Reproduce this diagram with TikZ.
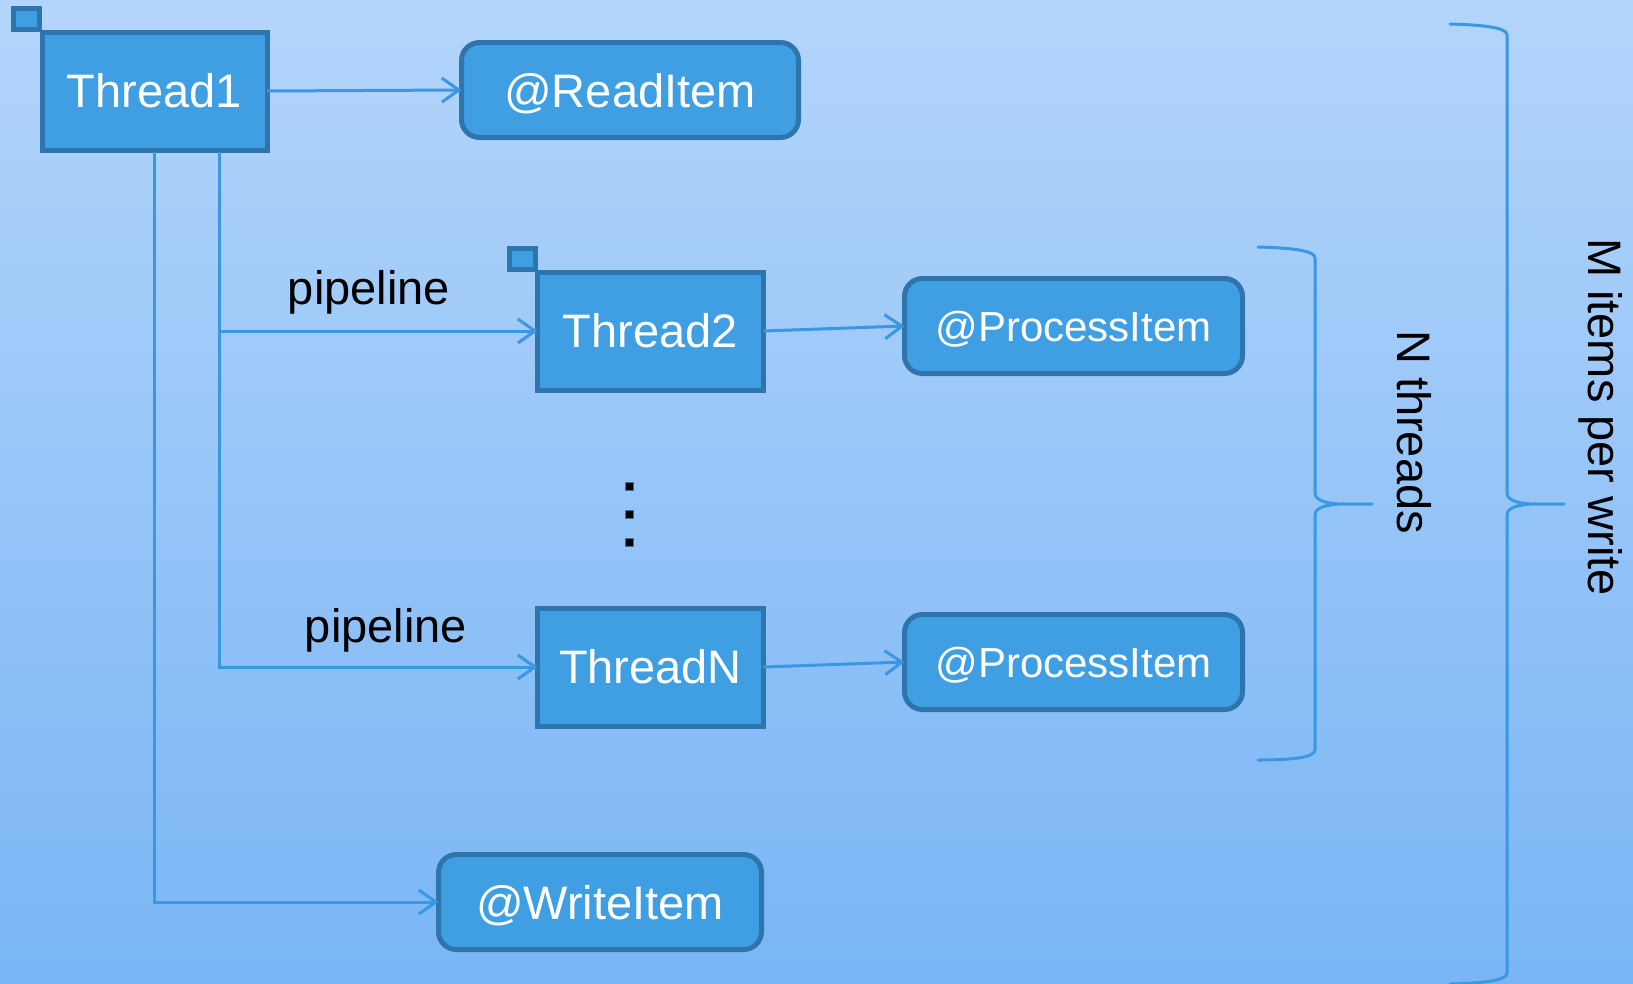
\documentclass[tikz,border=0pt]{standalone}
\usepackage{fontspec}
\setmainfont{Liberation Sans}
\usetikzlibrary{arrows.meta,calc}
\definecolor{bgtop}{RGB}{180,213,251}
\definecolor{bgbot}{RGB}{121,181,245}
\definecolor{boxfill}{RGB}{64,158,227}
\definecolor{boxline}{RGB}{46,116,173}
\definecolor{connc}{RGB}{58,152,224}
\begin{document}
\begin{tikzpicture}[x=1pt,y=-1pt,
 thread/.style={draw=boxline, fill=boxfill, line width=5pt, minimum width=225pt, minimum height=118pt, inner sep=0pt, outer sep=0pt, text=white, font=\fontsize{47}{56}\selectfont},
 action/.style={draw=boxline, fill=boxfill, line width=5pt, rounded corners=18pt, minimum height=95pt, inner sep=0pt, outer sep=0pt, text=white, text depth=0pt, font=\fontsize{47}{56}\selectfont},
 tagbox/.style={draw=boxline, fill=boxfill, line width=5pt, minimum width=26pt, minimum height=21pt, inner sep=0pt, outer sep=0pt},
 connline/.style={draw=connc, line width=3pt},
 arr/.style={connline, -{Straight Barb[length=17pt,width=24pt,line width=3pt]}},
 lbl/.style={font=\fontsize{47}{56}\selectfont, text=black, inner sep=0pt},
 bracestyle/.style={draw=connc, line width=3pt, line cap=round},
 dotbox/.style={fill=black, draw=boxline, line width=1pt, minimum size=8pt, inner sep=0pt}
]
\useasboundingbox (0,0) rectangle (1633,983);
\shade[top color=bgtop, bottom color=bgbot] (0,0) rectangle (1633,983);

% tags (behind boxes)
\node[tagbox] (tag1) at (26,19) {};
\node[tagbox] (tag2) at (522.5,259) {};

% thread boxes
\node[thread] (t1) at (154.5,91) {Thread1};
\node[thread, minimum width=226pt] (t2) at (650.5,331) {Thread2};
\node[thread, minimum width=226pt] (tn) at (650.5,667) {ThreadN};

% action boxes
\node[action, minimum width=337pt] (read) at (630,90) {@ReadItem};
\node[action, minimum width=338pt, font=\fontsize{42}{50}\selectfont] (p1) at (1073.5,326) {@ProcessItem};
\node[action, minimum width=338pt, font=\fontsize{42}{50}\selectfont] (p2) at (1073.5,662) {@ProcessItem};
\node[action, minimum width=323pt] (write) at (600,902) {@WriteItem};

% connectors
\coordinate (b1) at (154,152);
\coordinate (b2) at (219,152);
\coordinate (j2) at (219,331);
\draw[arr] (t1.east) -- (read.west);
\draw[arr] (t2.east) -- (p1.west);
\draw[arr] (tn.east) -- (p2.west);
\draw[arr] (b1) |- (write.west);
\draw[arr] (b2) |- (tn.west);
\draw[arr] (j2) -- (t2.west);

% labels
\node[lbl, anchor=base] (pl1) at (369,304) {pipeline};
\node[lbl, anchor=base] (pl2) at (386,642) {pipeline};

% vertical dots
\node[dotbox] (d1) at (629,486) {};
\node[dotbox] (d2) at (629,514) {};
\node[dotbox] (d3) at (629,542) {};

% braces
\draw[bracestyle] (1258,247) .. controls (1295,248) and (1315,251) .. (1315,258)
  -- (1315,493) .. controls (1315,500) and (1325,504) .. (1345,504) -- (1372,504)
  (1345,504) .. controls (1325,504) and (1315,508) .. (1315,515)
  -- (1315,750) .. controls (1315,757) and (1295,760) .. (1258,760);
\draw[bracestyle] (1450,24) .. controls (1487,25) and (1507,28) .. (1507,35)
  -- (1507,493) .. controls (1507,500) and (1517,504) .. (1537,504) -- (1564,504)
  (1537,504) .. controls (1517,504) and (1507,508) .. (1507,515)
  -- (1507,973) .. controls (1507,980) and (1487,983) .. (1450,984);

% brace labels
\node[lbl, rotate=-90, anchor=base] (nthr) at (1397,432) {N threads};
\node[lbl, rotate=-90, anchor=base] (mitems) at (1588,417) {M items per write};
\end{tikzpicture}
\end{document}
